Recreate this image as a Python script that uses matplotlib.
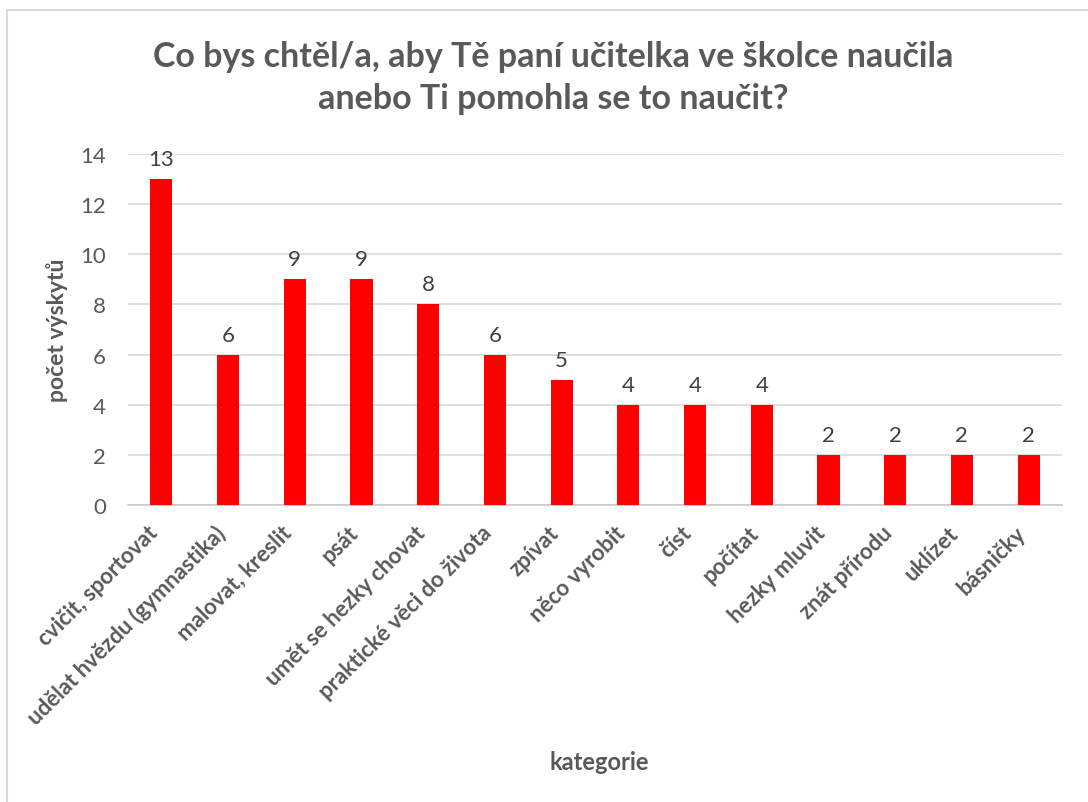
import matplotlib
matplotlib.use("Agg")
import matplotlib.pyplot as plt
from matplotlib.lines import Line2D
from matplotlib.transforms import ScaledTranslation

categories = ["cvičit, sportovat", "udělat hvězdu (gymnastika)", "malovat, kreslit", "psát",
              "umět se hezky chovat", "praktické věci do života", "zpívat", "něco vyrobit",
              "číst", "počítat", "hezky mluvit", "znát přírodu", "uklízet", "básničky"]
values = [13, 6, 9, 9, 8, 6, 5, 4, 4, 4, 2, 2, 2, 2]
yticks = [0, 2, 4, 6, 8, 10, 12, 14]
title_lines = ["Co bys chtěl/a, aby Tě paní učitelka ve školce naučila",
               "anebo Ti pomohla se to naučit?"]

plt.rcParams['font.family'] = ['Lato', 'DejaVu Sans']
gray = "#595959"
W, H = 1088, 803

fig = plt.figure(figsize=(W / 100, H / 100), dpi=100)
# chart border (only top and left edges visible in the reference crop)
fig.add_artist(Line2D([7 / W, 7 / W, 1.0], [0.0, 1 - 11 / H, 1 - 11 / H],
                      transform=fig.transFigure, color="#d9d9d9", linewidth=1.5))

ax = fig.add_axes([128 / W, 1 - 506 / H, 934 / W, 351 / H])

x = list(range(len(categories)))
ax.bar(x, values, width=0.33, color="#ff0000", zorder=3)
for xi, v in zip(x, values):
    ax.text(xi, v + 0.4, str(v), ha="center", va="bottom", fontsize=16, color="#404040")

ax.set_xlim(-0.5, len(categories) - 0.5)
ax.set_ylim(0, 14)
ax.set_yticks(yticks)
ax.set_yticklabels([str(t) for t in yticks], fontsize=16, color=gray)
ax.grid(axis="y", color="#d9d9d9", linewidth=1.2, zorder=0)
for s in ["top", "right", "left"]:
    ax.spines[s].set_visible(False)
ax.spines["bottom"].set_color("#c8c8c8")
ax.spines["bottom"].set_linewidth(1.2)
ax.tick_params(axis="both", length=0)
ax.tick_params(axis="y", pad=16)
ax.set_xticks(x)
ax.set_xticklabels(categories, rotation=45, ha="right", va="top", rotation_mode="anchor",
                   fontsize=16, fontweight="bold", color=gray)
ax.tick_params(axis="x", pad=12)
off = ScaledTranslation(-14 / 100, 0, fig.dpi_scale_trans)
for lab in ax.get_xticklabels():
    lab.set_transform(lab.get_transform() + off)

ax.set_ylabel("počet výskytů", fontsize=16.5, fontweight="bold", color=gray)
ax.yaxis.set_label_coords(-(128 - 68) / 934, 0.5)

fig.text(599 / W, 1 - 763 / H, "kategorie", ha="center", va="center", fontsize=17,
         fontweight="bold", color=gray)
fig.text(553 / W, 1 - 67 / H, title_lines[0], ha="center", va="baseline", fontsize=24.5,
         fontweight="bold", color=gray)
fig.text(553 / W, 1 - 109 / H, title_lines[1], ha="center", va="baseline", fontsize=24.5,
         fontweight="bold", color=gray)

fig.savefig("out.png", dpi=100)
